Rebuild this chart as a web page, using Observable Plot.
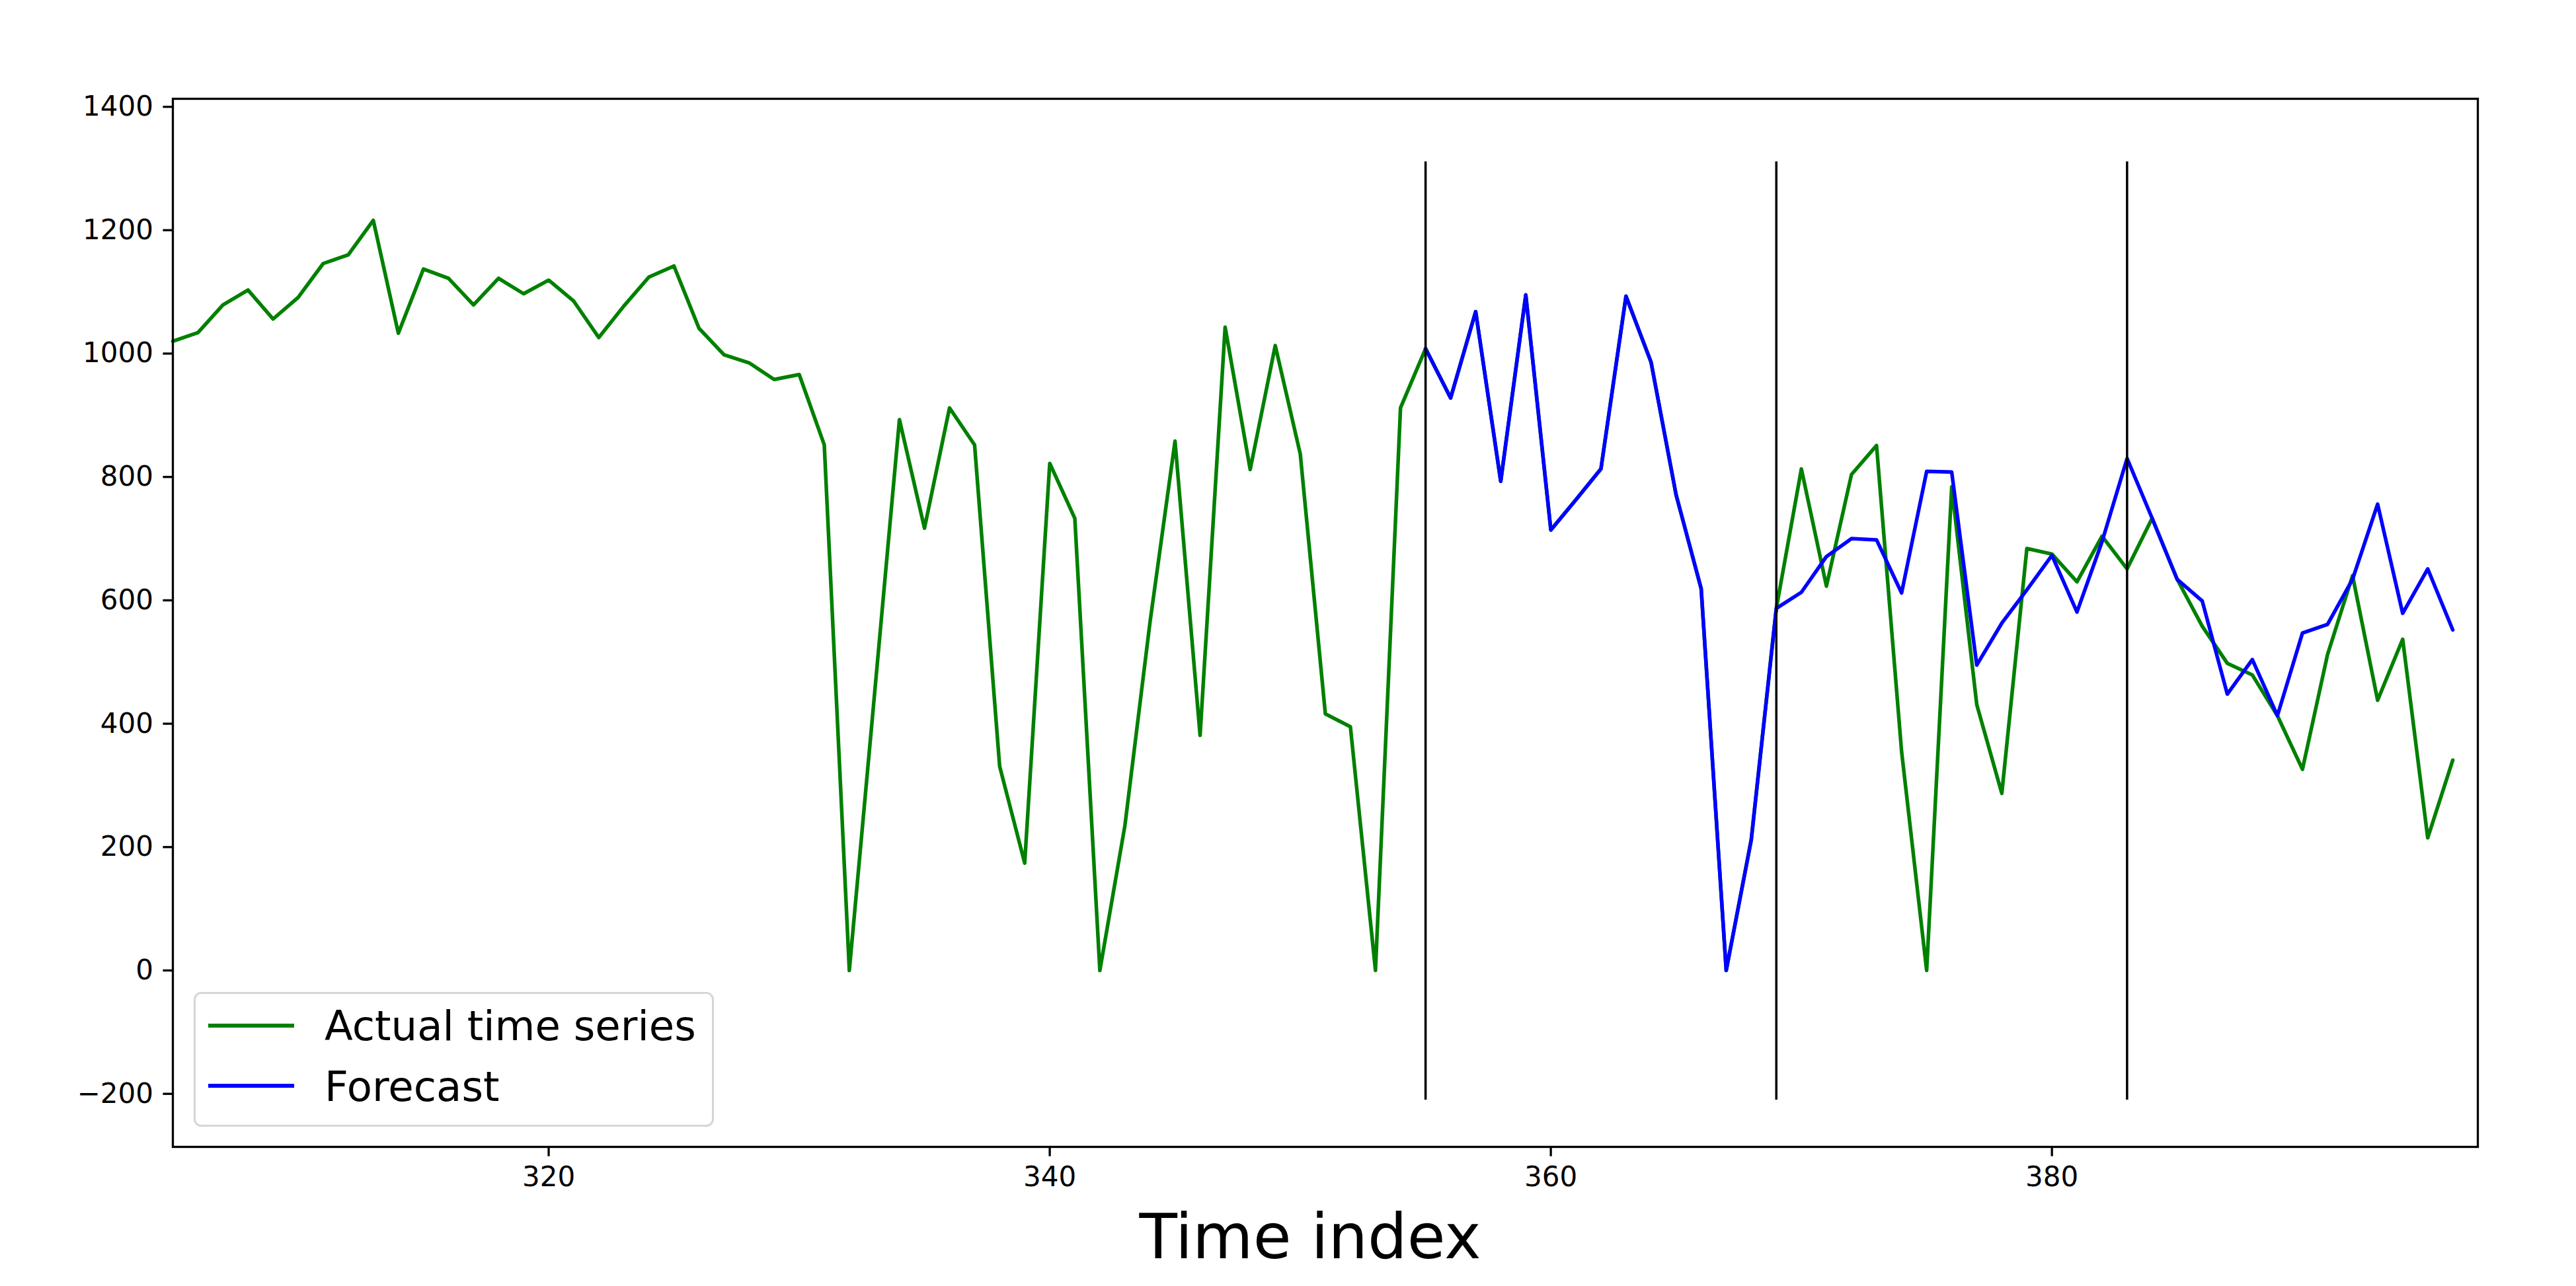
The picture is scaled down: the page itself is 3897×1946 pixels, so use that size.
<!DOCTYPE html>
<html>
<head>
<meta charset="utf-8">
<script src="https://cdn.jsdelivr.net/npm/d3@7"></script>
<script src="https://cdn.jsdelivr.net/npm/@observablehq/plot@0.6"></script>
<style>
  html, body { margin: 0; padding: 0; background: white; }
  #wrap { position: relative; width: 3897px; height: 1946px; }
  #legend { position: absolute; left: 293px; top: 1501px; }
</style>
</head>
<body>
<div id="wrap"></div>
<script>
// ---- data ----
const actualStart = 305;
const actualValues = [
  1020, 1034, 1079, 1103, 1056, 1091, 1146, 1160, 1216, 1033,
  1137, 1122, 1079, 1122, 1097, 1119, 1085, 1026, 1077, 1124,
  1142, 1041, 998, 985, 958, 966, 852, 0, 445, 893,
  717, 912, 852, 331, 174, 822, 733, 0, 235, 564,
  858, 381, 1043, 812, 1013, 837, 416, 395, 0, 912,
  1008, 928, 1068, 793, 1095, 714, 763, 813, 1093, 986,
  771, 619, 0, 212, 587, 813, 623, 804, 851, 355,
  0, 784, 431, 287, 684, 675, 630, 704, 651, 733,
  634, 558, 498, 479, 413, 326, 512, 640, 438, 537,
  215, 341
];
const forecastStart = 355;
const forecastValues = [
  1008, 928, 1068, 793, 1095, 714, 763, 813, 1093, 986,
  771, 619, 0, 212, 587, 613, 671, 700, 698, 612,
  809, 808, 495, 563, 617, 673, 581, 695, 830, 733,
  634, 599, 448, 504, 413, 547, 561, 634, 756, 579,
  651, 552
];
const splitPoints = [355, 369, 383];
const splitLow = -210;
const splitHigh = 1311;
const xTicks = [320, 340, 360, 380];
const yTicks = [-200, 0, 200, 400, 600, 800, 1000, 1200, 1400];
const xDomain = [305, 397];
const yDomain = [-286, 1413];
const seriesNames = ["Actual time series", "Forecast"];
const seriesColors = ["#008000", "#0000ff"];
const xLabel = "Time index";

// ---- tables ----
const actual = actualValues.map((v, i) => ({t: actualStart + i, v}));
const forecast = forecastValues.map((v, i) => ({t: forecastStart + i, v}));
const fmt = d => d < 0 ? "\u2212" + String(-d) : String(d);

const chart = Plot.plot({
  width: 3897,
  height: 1946,
  marginLeft: 261,
  marginRight: 149,
  marginTop: 149,
  marginBottom: 211,
  style: {fontFamily: "'DejaVu Sans', sans-serif", background: "white", color: "black", overflow: "visible"},
  x: {domain: xDomain},
  y: {domain: yDomain},
  marks: [
    Plot.lineY(actual, {x: "t", y: "v", stroke: seriesColors[0], strokeWidth: 5.5, strokeLinejoin: "round"}),
    Plot.lineY(forecast, {x: "t", y: "v", stroke: seriesColors[1], strokeWidth: 5.5, strokeLinejoin: "round"}),
    Plot.ruleX(splitPoints, {x: d => d, y1: splitLow, y2: splitHigh, stroke: "black", strokeWidth: 3.5}),
    Plot.frame({stroke: "black", strokeWidth: 3.3}),
    Plot.axisY({ticks: yTicks, tickSize: 14.6, tickPadding: 15, fontSize: 42, strokeWidth: 3.3, label: null, tickFormat: fmt}),
    Plot.axisX({ticks: xTicks, tickSize: 14.6, tickPadding: 15, fontSize: 42, strokeWidth: 3.3, label: null, tickFormat: fmt}),
    Plot.text([xLabel], {text: d => d, frameAnchor: "bottom", lineAnchor: "bottom", dy: 168, dx: -23, fontSize: 94, fill: "black"})
  ]
});
const wrap = document.getElementById("wrap");
wrap.appendChild(chart);

// ---- legend (overlay) ----
const lw = 787, lh = 204;
const legend = d3.create("svg")
  .attr("id", "legend")
  .attr("width", lw)
  .attr("height", lh)
  .style("font-family", "'DejaVu Sans', sans-serif");
legend.append("rect")
  .attr("x", 1.5).attr("y", 1.5)
  .attr("width", lw - 3).attr("height", lh - 3)
  .attr("rx", 10).attr("ry", 10)
  .attr("fill", "white").attr("fill-opacity", 0.8)
  .attr("stroke", "#d6d6d6").attr("stroke-width", 3);
const rowY = [51, 142];
const baseY = [73, 165];
seriesNames.forEach((name, i) => {
  legend.append("line")
    .attr("x1", 22).attr("x2", 152)
    .attr("y1", rowY[i]).attr("y2", rowY[i])
    .attr("stroke", seriesColors[i]).attr("stroke-width", 6);
  legend.append("text")
    .attr("x", 198).attr("y", baseY[i])
    .attr("font-size", 62.5)
    .attr("fill", "black")
    .text(name);
});
wrap.appendChild(legend.node());
</script>
</body>
</html>
